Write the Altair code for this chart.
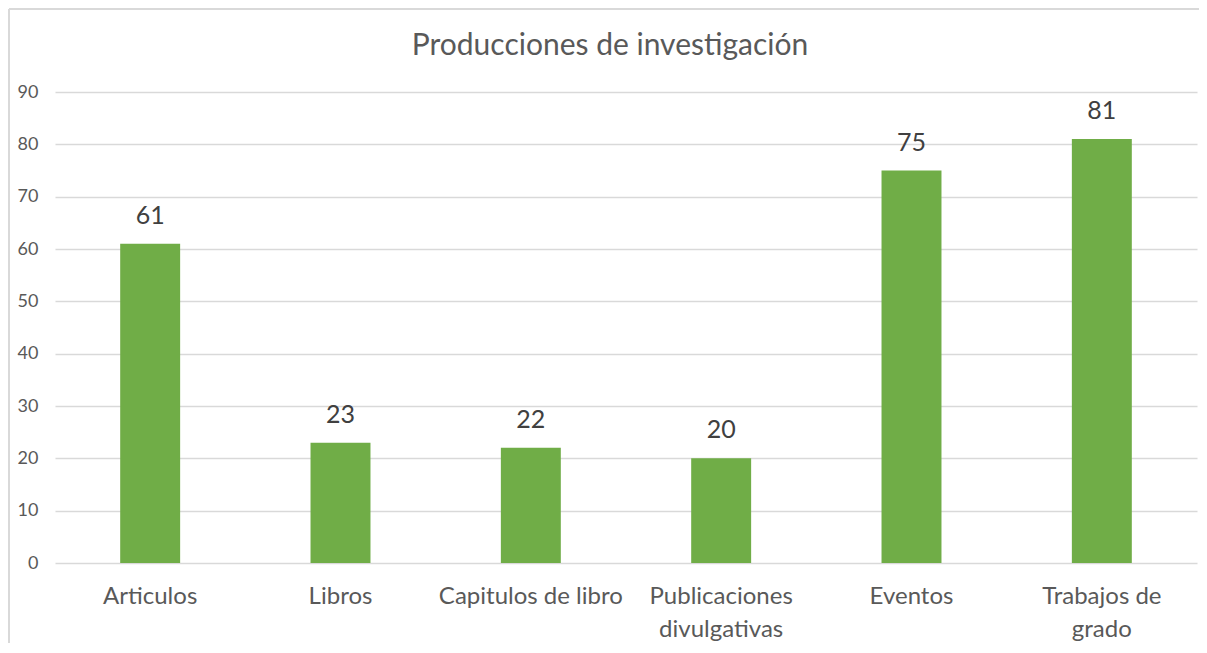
import altair as alt
import pandas as pd

title_text = "Producciones de investigación"
categories = ["Articulos", "Libros", "Capitulos de libro", "Publicaciones|divulgativas", "Eventos", "Trabajos de|grado"]
values = [61, 23, 22, 20, 75, 81]
y_ticks = [0, 10, 20, 30, 40, 50, 60, 70, 80, 90]

df = pd.DataFrame({"cat": categories, "val": values})
FONT = "Lato"

x_enc = alt.X("cat:N", sort=categories, title=None,
              scale=alt.Scale(paddingInner=0.685, paddingOuter=0.3425),
              axis=alt.Axis(labelExpr="split(datum.value, '|')", labelAngle=0,
                            labelFontSize=24, labelColor="#595959", labelFont=FONT,
                            labelPadding=21, labelLineHeight=33, labelBaseline="top",
                            labelLimit=400, labelOverlap=False,
                            domain=False, ticks=False, grid=False))
y_enc = alt.Y("val:Q", title=None,
              scale=alt.Scale(domain=[0, 90], nice=False),
              axis=alt.Axis(values=y_ticks, labelFontSize=18, labelColor="#595959",
                            labelFont=FONT, labelPadding=17, domain=False, ticks=False,
                            grid=True, gridColor="#d9d9d9", gridWidth=1.3))

bars = alt.Chart(df).mark_bar(color="#70AD47").encode(x=x_enc, y=y_enc)
labels = alt.Chart(df).mark_text(font=FONT, fontSize=25, color="#404040",
                                 baseline="alphabetic", dy=-20).encode(
    x=alt.X("cat:N", sort=categories), y="val:Q", text="val:Q")

deco_df = pd.DataFrame({"t": [title_text]})
title_mark = alt.Chart(deco_df).mark_text(font=FONT, fontSize=30, color="#595959",
                                          align="center", baseline="alphabetic").encode(
    x=alt.value(555), y=alt.value(-37), text="t:N")
left_border = alt.Chart(deco_df).mark_rule(color="#d9d9d9", strokeWidth=2).encode(
    x=alt.value(-46), y=alt.value(-83), y2=alt.value(620))
top_border = alt.Chart(deco_df).mark_rule(color="#d9d9d9", strokeWidth=2).encode(
    x=alt.value(-46), x2=alt.value(1200), y=alt.value(-83))

chart = alt.layer(bars, labels, title_mark, left_border, top_border).properties(
    width=1142, height=471,
    padding={"left": 47, "top": 84, "right": 2, "bottom": 80},
    autosize=alt.AutoSizeParams(type="none"),
).configure_view(stroke=None)

chart.save("out.html", embed_options={"renderer": "svg", "actions": False})
